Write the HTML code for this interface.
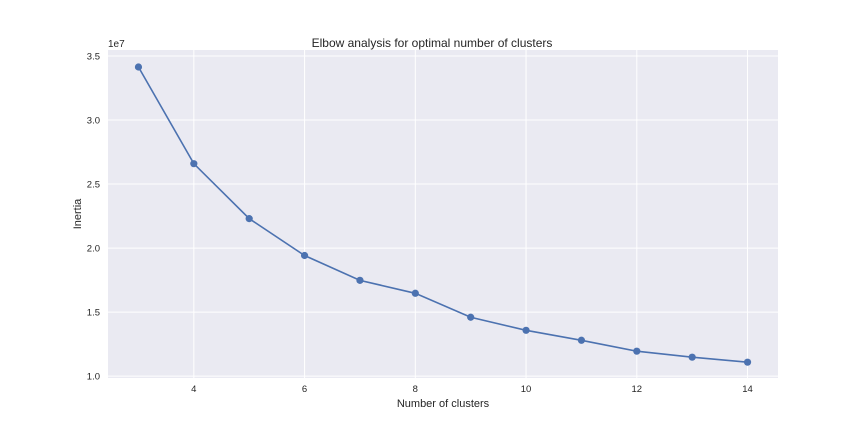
<!DOCTYPE html>
<html><head><meta charset="utf-8">
<style>
html,body{margin:0;padding:0;background:#fff;}
svg{display:block;font-family:"Liberation Sans","DejaVu Sans",sans-serif;}
</style></head>
<body>
<svg id="chart" width="864" height="432" viewBox="0 0 864 432">
<rect x="108" y="50" width="670" height="328" fill="#eaeaf2"/>
<g id="grid"></g>
<g id="ticks"></g>
<text x="432" y="47" text-anchor="middle" font-size="12" fill="#262626">Elbow analysis for optimal number of clusters</text>
<text x="443" y="407" text-anchor="middle" font-size="11" fill="#262626">Number of clusters</text>
<text x="81" y="214" text-anchor="middle" font-size="11" fill="#262626" transform="rotate(-90 81 214)">Inertia</text>
<text x="108" y="47" text-anchor="start" font-size="10" fill="#262626">1e7</text>
<g id="series"></g>
</svg>
<script>
const clusters = [3,4,5,6,7,8,9,10,11,12,13,14];
const inertia = [3.414,2.659,2.230,1.942,1.748,1.647,1.460,1.358,1.280,1.195,1.148,1.109];
const xTicks = [4,6,8,10,12,14];
const yTicks = [1.0,1.5,2.0,2.5,3.0,3.5];
const yTickLabels = ["1.0","1.5","2.0","2.5","3.0","3.5"];

const X0=108,X1=778,Y0=50,Y1=378;
const xMin=2.45,xMax=14.55,yMin=0.9855,yMax=3.5467;
function xs(v){return X0+(v-xMin)/(xMax-xMin)*(X1-X0);}
function ys(v){return Y1-(v-yMin)/(yMax-yMin)*(Y1-Y0);}
const NS="http://www.w3.org/2000/svg";
const grid=document.getElementById('grid'),ticks=document.getElementById('ticks'),series=document.getElementById('series');
xTicks.forEach(t=>{
  const l=document.createElementNS(NS,'line');
  l.setAttribute('x1',xs(t));l.setAttribute('x2',xs(t));l.setAttribute('y1',Y0);l.setAttribute('y2',Y1);
  l.setAttribute('stroke','#fff');l.setAttribute('stroke-width','1');
  
  
  grid.appendChild(l);
  const tx=document.createElementNS(NS,'text');
  tx.setAttribute('x',xs(t));tx.setAttribute('y',Y1+14);tx.setAttribute('text-anchor','middle');
  tx.setAttribute('font-size','9.5');tx.setAttribute('fill','#262626');tx.textContent=t;
  
  
  ticks.appendChild(tx);
});
yTicks.forEach((t,i)=>{
  const l=document.createElementNS(NS,'line');
  l.setAttribute('x1',X0);l.setAttribute('x2',X1);l.setAttribute('y1',ys(t));l.setAttribute('y2',ys(t));
  l.setAttribute('stroke','#fff');l.setAttribute('stroke-width','1');
  
  
  grid.appendChild(l);
  const tx=document.createElementNS(NS,'text');
  tx.setAttribute('x',X0-8);tx.setAttribute('y',ys(t)+3.5);tx.setAttribute('text-anchor','end');
  tx.setAttribute('font-size','9.5');tx.setAttribute('fill','#262626');tx.textContent=yTickLabels[i];
  
  
  ticks.appendChild(tx);
});
const pl=document.createElementNS(NS,'polyline');
pl.setAttribute('points',clusters.map((c,i)=>xs(c)+','+ys(inertia[i])).join(' '));
pl.setAttribute('fill','none');pl.setAttribute('stroke','#4c72b0');pl.setAttribute('stroke-width','1.6');


series.appendChild(pl);
clusters.forEach((c,i)=>{
  const p=document.createElementNS(NS,'circle');
  p.setAttribute('cx',xs(c));p.setAttribute('cy',ys(inertia[i]));p.setAttribute('r','3.6');
  p.setAttribute('fill','#4c72b0');
  
  
  series.appendChild(p);
});
</script>
</body></html>
